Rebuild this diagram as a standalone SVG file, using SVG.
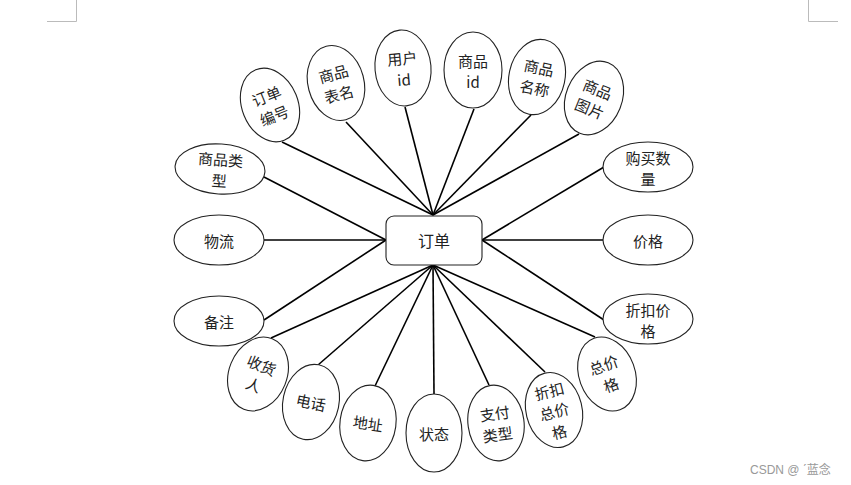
<svg xmlns="http://www.w3.org/2000/svg" width="851" height="485" viewBox="0 0 851 485">
<style>
.bg{fill:#fff}
.e{fill:#fff;stroke:#222;stroke-width:1.1}
.t{font-family:"Noto Sans CJK SC","Liberation Sans",sans-serif;font-size:15px;fill:#222;text-anchor:middle;dominant-baseline:central}
.c line{stroke:#000;stroke-width:1.6}
.corner{stroke:#bbb;stroke-width:1;fill:none}
.wm{font-family:"Liberation Sans","Noto Sans CJK SC",sans-serif;font-size:12px;fill:#999}
</style>
<rect class="bg" width="851" height="485"/>
<path class="corner" d="M47 21.5H76.5V0M808.5 0V21.5H838"/>
<g class="c" id="connectors">
<line x1="282" y1="142" x2="433" y2="215"/>
<line x1="346" y1="122" x2="433" y2="215"/>
<line x1="405" y1="107" x2="433" y2="215"/>
<line x1="474" y1="109" x2="433" y2="215"/>
<line x1="531" y1="115" x2="433" y2="215"/>
<line x1="579" y1="134" x2="433" y2="215"/>
<line x1="604" y1="167" x2="482" y2="240"/>
<line x1="604" y1="240" x2="482" y2="240"/>
<line x1="604" y1="320" x2="482" y2="240"/>
<line x1="595" y1="337" x2="433" y2="265"/>
<line x1="545" y1="372" x2="433" y2="265"/>
<line x1="489" y1="385" x2="433" y2="265"/>
<line x1="434" y1="394" x2="433" y2="265"/>
<line x1="375" y1="386" x2="433" y2="265"/>
<line x1="318" y1="365" x2="433" y2="265"/>
<line x1="271" y1="338" x2="433" y2="265"/>
<line x1="264" y1="320" x2="386" y2="240"/>
<line x1="264" y1="240" x2="386" y2="240"/>
<line x1="264" y1="177" x2="386" y2="240"/>
</g>
<g id="order">
<rect x="386" y="216" width="96" height="49" rx="8" fill="#fff" stroke="#222" stroke-width="1.1"/>
<text class="t" x="434" y="240" style="font-size:16px">订单</text>
</g>
<g id="n-ddbh" transform="translate(270 105) rotate(-22)"><ellipse class="e" rx="28" ry="38"/><text class="t" y="-10">订单</text><text class="t" y="11">编号</text></g>
<g id="n-spbm" transform="translate(336 83) rotate(-15)"><ellipse class="e" rx="28" ry="38"/><text class="t" y="-10">商品</text><text class="t" y="11">表名</text></g>
<g id="n-yhid" transform="translate(403 68) rotate(-5)"><ellipse class="e" rx="28" ry="38"/><text class="t" y="-10">用户</text><text class="t" y="11">id</text></g>
<g id="n-spid" transform="translate(473 70)"><ellipse class="e" rx="29" ry="38"/><text class="t" y="-10">商品</text><text class="t" y="11">id</text></g>
<g id="n-spmc" transform="translate(537 77) rotate(12)"><ellipse class="e" rx="28" ry="38"/><text class="t" y="-10">商品</text><text class="t" y="11">名称</text></g>
<g id="n-sptp" transform="translate(594 98) rotate(22)"><ellipse class="e" rx="28" ry="38"/><text class="t" y="-10">商品</text><text class="t" y="11">图片</text></g>
<g id="n-gmsl" transform="translate(648 167)"><ellipse class="e" rx="45" ry="25"/><text class="t" y="-10">购买数</text><text class="t" y="11">量</text></g>
<g id="n-jg" transform="translate(648 240)"><ellipse class="e" rx="45" ry="25"/><text class="t">价格</text></g>
<g id="n-zkjg" transform="translate(648 319)"><ellipse class="e" rx="45" ry="25"/><text class="t" y="-10">折扣价</text><text class="t" y="11">格</text></g>
<g id="n-zjg" transform="translate(607 374) rotate(-20)"><ellipse class="e" rx="28" ry="38"/><text class="t" y="-10">总价</text><text class="t" y="11">格</text></g>
<g id="n-zkzjg" transform="translate(554 410) rotate(-14)"><ellipse class="e" rx="28" ry="38"/><text class="t" y="-20">折扣</text><text class="t" y="1">总价</text><text class="t" y="22">格</text></g>
<g id="n-zflx" transform="translate(496 423) rotate(-8)"><ellipse class="e" rx="28" ry="38"/><text class="t" y="-10">支付</text><text class="t" y="11">类型</text></g>
<g id="n-zt" transform="translate(434 433)"><ellipse class="e" rx="28" ry="39"/><text class="t">状态</text></g>
<g id="n-dz" transform="translate(368 423) rotate(8)"><ellipse class="e" rx="28" ry="38"/><text class="t">地址</text></g>
<g id="n-dh" transform="translate(311 402) rotate(12)"><ellipse class="e" rx="28" ry="38"/><text class="t">电话</text></g>
<g id="n-shr" transform="translate(258 374) rotate(22)"><ellipse class="e" rx="29" ry="38"/><text class="t" y="-10">收货</text><text class="t" y="11">人</text></g>
<g id="n-bz" transform="translate(219 321)"><ellipse class="e" rx="45" ry="25"/><text class="t">备注</text></g>
<g id="n-wl" transform="translate(219 240)"><ellipse class="e" rx="45" ry="25"/><text class="t">物流</text></g>
<g id="n-splx" transform="translate(220 169) rotate(4)"><ellipse class="e" rx="45" ry="25"/><text class="t" y="-10">商品类</text><text class="t" y="11">型</text></g>
<text class="wm" x="750" y="474">CSDN @ ˊ蓝念</text>
</svg>
